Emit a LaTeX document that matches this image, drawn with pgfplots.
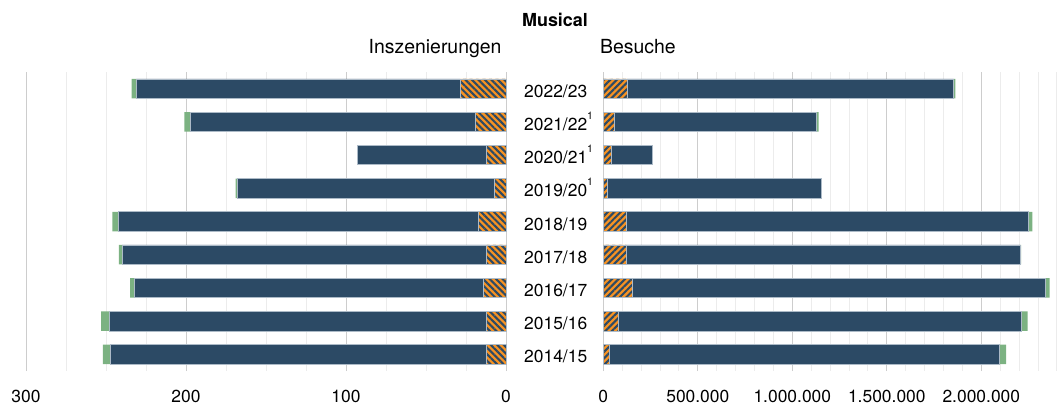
\documentclass[border=0pt]{standalone}
\usepackage{pgfplots}
\pgfplotsset{compat=1.18}
\usepackage{pgfplotstable}
\usetikzlibrary{patterns.meta}
\usepackage{fontspec}
\setmainfont{TeX Gyre Heros}
\definecolor{cblue}{RGB}{44,74,101}
\definecolor{corange}{RGB}{247,146,34}
\definecolor{cgreen}{RGB}{124,178,130}
\definecolor{cedge}{RGB}{172,186,199}
\definecolor{gmaj}{RGB}{205,205,205}
\definecolor{gmin}{RGB}{236,236,236}
\newcommand{\fn}{\raisebox{0.62em}{\fontsize{10.5}{11}\selectfont 1}}

% y: 0=2014/15 ... 8=2022/23
\pgfplotstableread{
y insO insB insG besO besB besG
0 12 235 5 34000 2063000 34000
1 12 236 5 77000 2136000 32000
2 14 218 3 155000 2186000 20000
3 12 228 2 122000 2082000 6000
4 17 225 4 122000 2129000 19000
5 7 161 1 22000 1130000 2000
6 12 81 0 43000 214000 0
7 19 178 4 60000 1069000 10000
8 28.5 202.5 3 125000 1729000 9000
}\datatable

\pgfplotsset{
  common/.style={
    scale only axis, height=299bp,
    ymin=-0.5, ymax=8.5,
    xbar stacked, bar width=19.5bp,
    axis line style={draw=none},
    xmajorgrids, xminorgrids,
    major grid style={gmaj, line width=1bp},
    minor grid style={gmin, line width=0.9bp},
    major tick length=0pt, minor tick length=0pt,
    tick style={draw=none},
    xticklabel style={anchor=base, inner sep=0pt, yshift=-31bp, font=\fontsize{17.5}{20}\selectfont},
    clip=false,
  },
  obar/.style={fill=corange, draw=cedge, line width=0.7bp,
    postaction={pattern={Lines[angle=#1,distance=4.6pt,line width=2.1pt]}, pattern color=cblue}},
  bbar/.style={fill=cblue, draw=cedge, line width=0.7bp},
  gbar/.style={fill=cgreen, draw=none},
}

\begin{document}
\begin{tikzpicture}[x=1bp,y=1bp]
\useasboundingbox (0,0) rectangle (1057,405);

\begin{axis}[common,
  at={(26bp,34bp)}, anchor=south west,
  width=480bp,
  xmin=-300, xmax=0,
  xtick={-300,-200,-100,0},
  xticklabels={300,200,100,0},
  minor xtick={-275,-250,-225,-175,-150,-125,-75,-50,-25},
  ytick={0,1,2,3,4,5,6,7,8},
  yticklabels={2014/15,2015/16,2016/17,2017/18,2018/19,2019/20\fn,2020/21\fn,2021/22\fn,2022/23},
  yticklabel pos=right,
  yticklabel style={anchor=base west, inner sep=0pt, xshift=18bp, yshift=-8.5bp, font=\fontsize{17.5}{20}\selectfont},
]
\addplot[obar=-45] table[y=y, x expr=-\thisrow{insO}] {\datatable};
\addplot[bbar] table[y=y, x expr=-\thisrow{insB}] {\datatable};
\addplot[gbar] table[y=y, x expr=-\thisrow{insG}] {\datatable};
\end{axis}

\begin{axis}[common,
  at={(603.3bp,34bp)}, anchor=south west,
  width=453.6bp,
  xmin=0, xmax=2400000,
  scaled x ticks=false,
  xtick={0,500000,1000000,1500000,2000000},
  xticklabels={0,500.000,1.000.000,1.500.000,2.000.000},
  minor xtick={100000,200000,300000,400000,600000,700000,800000,900000,1100000,1200000,1300000,1400000,1600000,1700000,1800000,1900000,2100000,2200000,2300000,2400000},
  ytick=\empty,
]
\addplot[obar=45] table[y=y, x=besO] {\datatable};
\addplot[bbar] table[y=y, x=besB] {\datatable};
\addplot[gbar] table[y=y, x=besG] {\datatable};
\end{axis}

\node[anchor=base, inner sep=0pt, font=\fontsize{18}{21}\selectfont\bfseries] at (555,378.3) {Musical};
\node[anchor=base east, inner sep=0pt, font=\fontsize{19.5}{22}\selectfont] at (501.7,351.7) {Inszenierungen};
\node[anchor=base west, inner sep=0pt, font=\fontsize{19.5}{22}\selectfont] at (600,351.7) {Besuche};
\end{tikzpicture}
\end{document}
